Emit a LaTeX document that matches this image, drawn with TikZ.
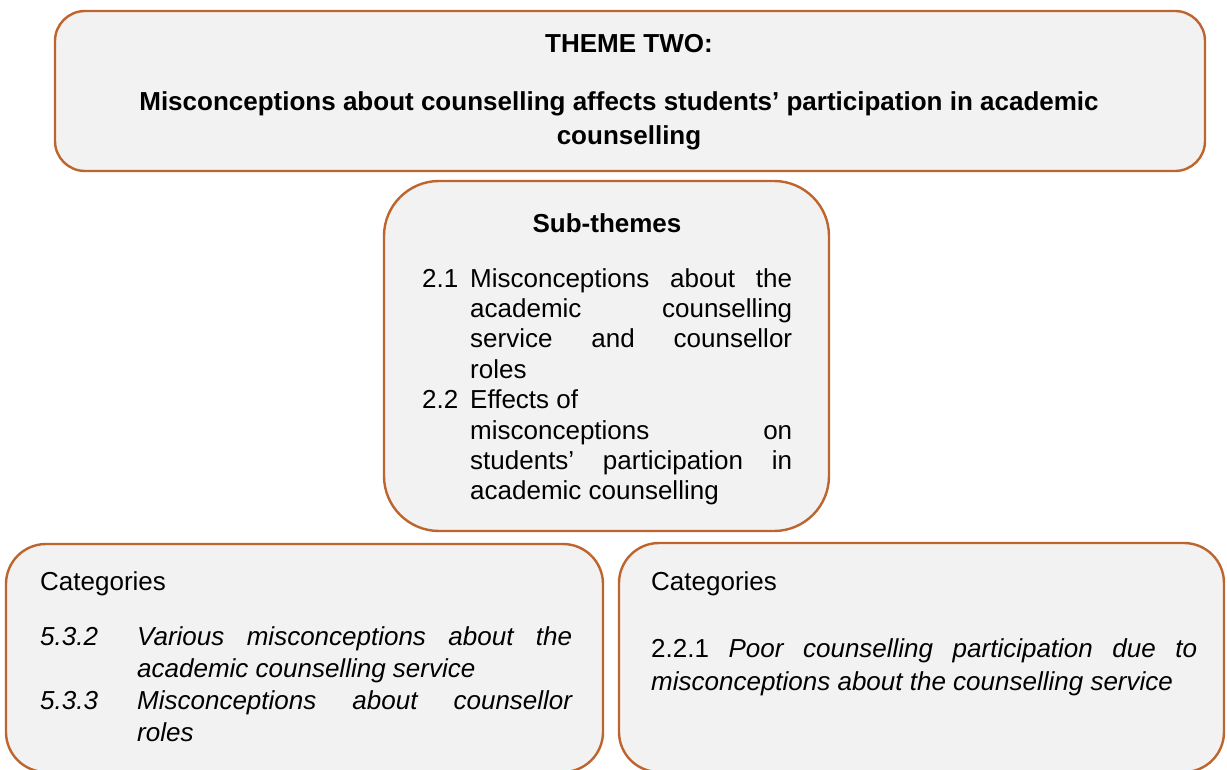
\documentclass[tikz,border=0pt]{standalone}
\usepackage{fontspec}
\setmainfont{Liberation Sans}
\usetikzlibrary{positioning}

\definecolor{boxedge}{RGB}{190,100,45}
\definecolor{boxfill}{RGB}{242,242,242}

% one justified line of a list entry
\newcommand{\jline}[2][322pt]{\makebox[#1][s]{#2}}

\begin{document}
\begin{tikzpicture}[%
    x=1pt, y=-1pt,              % work in pixel-like units, y downwards
    panel/.style={draw=boxedge, fill=boxfill, line width=2.4pt,
        rounded corners=#1, inner sep=0pt},
    panel/.default=30pt,
    txt/.style={inner sep=0pt, align=left, font=\fontsize{26}{30.4}\selectfont},
    ]

    \useasboundingbox (0,0) rectangle (1227,770);
    \clip (0,0) rectangle (1227,770);

    % the four boxes
    \node[panel=30pt, minimum width=1150pt, minimum height=160pt] (theme) at (630,91) {};
    \node[panel=55pt, minimum width=445pt, minimum height=350pt] (sub) at (606.5,356) {};
    \node[panel=40pt, minimum width=597pt, minimum height=228pt] (catl) at (304.5,658) {};
    \node[panel=40pt, minimum width=605pt, minimum height=229pt] (catr) at (921.5,657.5) {};

    % theme
    \node[txt, anchor=base, font=\bfseries\fontsize{26}{30}\selectfont] (themehead) at (629,53) {THEME TWO:};
    \node[txt, anchor=base, font=\bfseries\fontsize{26}{30}\selectfont] (themeline) at (619,111)
        {Misconceptions about counselling affects students’ participation in academic};
    \node[txt, anchor=base, font=\bfseries\fontsize{26}{30}\selectfont] (themeend) at (629,145) {counselling};

    % sub-themes
    \node[txt, anchor=base, font=\bfseries\fontsize{26}{30}\selectfont] (subhead) at (607,233) {Sub-themes};
    \node[txt, anchor=north west] (sublist) at (422,265.7) {%
        \strut\makebox[48pt][l]{2.1}\jline{Misconceptions about the}\\
        \hspace*{48pt}\jline{academic counselling}\\
        \hspace*{48pt}\jline{service and counsellor}\\
        \hspace*{48pt}roles\\
        \makebox[48pt][l]{2.2}Effects of\\
        \hspace*{48pt}\jline{misconceptions on}\\
        \hspace*{48pt}\jline{students’ participation in}\\
        \hspace*{48pt}academic counselling};

    % categories, left
    \node[txt, anchor=base west] (catlhead) at (40,590) {Categories};
    \node[txt, anchor=north west, font=\itshape\fontsize{26}{32}\selectfont] (catllist) at (40,622.6) {%
        \strut\makebox[97pt][l]{5.3.2}\jline[435pt]{Various misconceptions about the}\\
        \hspace*{97pt}academic counselling service\\
        \makebox[97pt][l]{5.3.3}\jline[435pt]{Misconceptions about counsellor}\\
        \hspace*{97pt}roles};

    % categories, right
    \node[txt, anchor=base west] (catrhead) at (651,590) {Categories};
    \node[txt, anchor=north west, font=\fontsize{26}{33}\selectfont] (catrlist) at (651,633.9) {%
        \strut\jline[546pt]{2.2.1 \itshape Poor counselling participation due to}\\
        \itshape misconceptions about the counselling service};
\end{tikzpicture}
\end{document}
